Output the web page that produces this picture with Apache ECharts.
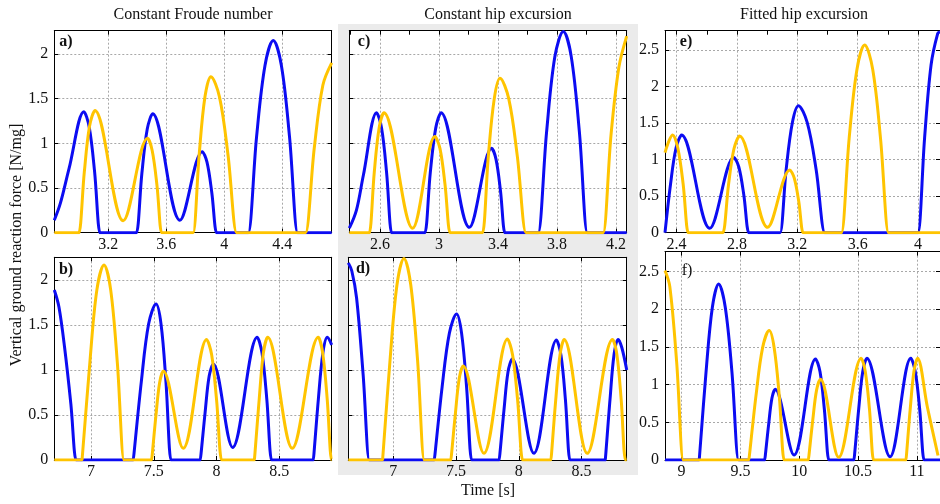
<!DOCTYPE html>
<html>
<head>
<meta charset="utf-8">
<script src="https://cdn.jsdelivr.net/npm/echarts@6/dist/echarts.min.js"></script>
<style>
html,body{margin:0;padding:0;background:#fff;}
#chart{width:940px;height:504px;}
</style>
</head>
<body>
<div id="chart"></div>
<script>
// ---------- data (time [s], vertical GRF [N/mg]) ----------
const aBlue = [[2.828,0.14],[2.87,0.33],[2.93,0.72],[3.032,1.354],[3.069,1.18],[3.106,0.68],[3.143,0],[3.148,0],[3.39,0],[3.395,0],[3.432,0.665],[3.469,1.16],[3.506,1.33],[3.694,0.14],[3.848,0.907],[3.881,0.79],[3.914,0.45],[3.947,0],[3.952,0],[4.161,0],[4.166,0],[4.223,1.075],[4.281,1.87],[4.338,2.15],[4.394,1.87],[4.45,1.075],[4.506,0],[4.511,0],[4.741,0]];
const aYellow = [[2.828,0],[2.993,0],[2.998,0],[3.035,0.68],[3.071,1.19],[3.108,1.366],[3.303,0.134],[3.471,1.056],[3.503,0.92],[3.536,0.53],[3.568,0],[3.573,0],[3.781,0],[3.786,0],[3.827,0.87],[3.867,1.52],[3.908,1.746],[3.967,1.52],[4.026,0.87],[4.085,0],[4.09,0],[4.556,0],[4.561,0],[4.621,0.95],[4.68,1.65],[4.741,1.9]];
const bBlue = [[6.708,1.889],[6.745,1.7],[6.79,1.25],[6.84,0.62],[6.881,0],[6.886,0],[7.337,0],[7.342,0],[7.401,0.87],[7.459,1.51],[7.518,1.733],[7.558,1.51],[7.597,0.87],[7.637,0],[7.642,0],[7.871,0],[7.876,0],[7.909,0.53],[7.941,0.93],[7.974,1.067],[8.128,0.14],[8.324,1.363],[8.362,1.19],[8.4,0.68],[8.438,0],[8.443,0],[8.771,0],[8.776,0],[8.811,0.68],[8.847,1.19],[8.882,1.363],[8.917,1.28]];
const bYellow = [[6.708,0],[6.929,0],[6.934,0],[6.991,1.08],[7.047,1.89],[7.104,2.167],[7.157,1.89],[7.21,1.08],[7.263,0],[7.268,0],[7.483,0],[7.488,0],[7.517,0.49],[7.547,0.86],[7.576,0.989],[7.735,0.13],[7.921,1.34],[7.961,1.17],[8.0,0.67],[8.04,0],[8.045,0],[8.301,0],[8.306,0],[8.34,0.68],[8.373,1.19],[8.407,1.363],[8.603,0.13],[8.81,1.363],[8.845,1.19],[8.881,0.68],[8.916,0],[8.917,0]];
const cBlue = [[2.392,0.05],[2.44,0.25],[2.487,0.64],[2.577,1.343],[2.611,1.17],[2.645,0.67],[2.679,0],[2.684,0],[2.9,0],[2.905,0],[2.941,0.67],[2.978,1.17],[3.014,1.343],[3.206,0.06],[3.357,0.944],[3.387,0.82],[3.417,0.47],[3.447,0],[3.452,0],[3.668,0],[3.673,0],[3.73,1.13],[3.786,1.97],[3.843,2.25],[3.897,1.97],[3.952,1.13],[4.006,0],[4.011,0],[4.273,0]];
const cYellow = [[2.392,0],[2.523,0],[2.528,0],[2.561,0.67],[2.594,1.17],[2.627,1.343],[2.821,0.05],[2.973,1.075],[3.007,0.94],[3.041,0.54],[3.075,0],[3.08,0],[3.291,0],[3.296,0],[3.335,0.86],[3.375,1.5],[3.414,1.728],[3.473,1.5],[3.531,0.86],[3.59,0],[3.595,0],[4.109,0],[4.114,0],[4.167,1.1],[4.22,1.85],[4.273,2.2]];
const dBlue = [[6.642,2.19],[6.67,2.1],[6.708,1.8],[6.76,0.95],[6.809,0],[6.814,0],[7.327,0],[7.332,0],[7.389,0.81],[7.447,1.41],[7.504,1.622],[7.544,1.41],[7.584,0.81],[7.624,0],[7.629,0],[7.844,0],[7.849,0],[7.882,0.56],[7.914,0.98],[7.947,1.122],[8.12,0.074],[8.3,1.333],[8.336,1.16],[8.371,0.67],[8.407,0],[8.412,0],[8.688,0],[8.693,0],[8.726,0.67],[8.758,1.17],[8.791,1.34],[8.82,1.25],[8.859,1.0]];
const dYellow = [[6.642,0],[6.915,0],[6.92,0],[6.975,1.12],[7.03,1.95],[7.085,2.24],[7.139,1.95],[7.193,1.12],[7.247,0],[7.252,0],[7.459,0],[7.464,0],[7.495,0.52],[7.526,0.91],[7.557,1.044],[7.722,0.074],[7.91,1.344],[7.95,1.17],[7.99,0.67],[8.03,0],[8.035,0],[8.256,0],[8.261,0],[8.294,0.67],[8.328,1.17],[8.361,1.34],[8.545,0.074],[8.746,1.34],[8.781,1.17],[8.815,0.67],[8.85,0],[8.859,0]];
const eBlue = [[2.323,0],[2.36,0.67],[2.396,1.16],[2.433,1.338],[2.619,0.06],[2.779,1.03],[2.812,0.9],[2.845,0.52],[2.878,0],[2.883,0],[3.081,0],[3.086,0],[3.126,0.87],[3.167,1.51],[3.207,1.74],[3.265,1.51],[3.324,0.87],[3.382,0],[3.387,0],[3.995,0],[4.0,0],[4.043,1.3],[4.086,2.3],[4.13,2.73],[4.145,2.75]];
const eYellow = [[2.323,1.096],[2.374,1.338],[2.408,1.16],[2.443,0.67],[2.477,0],[2.482,0],[2.702,0],[2.707,0],[2.744,0.66],[2.78,1.15],[2.817,1.324],[3.003,0.073],[3.15,0.858],[3.179,0.75],[3.209,0.43],[3.238,0],[3.243,0],[3.487,0],[3.492,0],[3.543,1.29],[3.595,2.24],[3.646,2.571],[3.699,2.24],[3.751,1.29],[3.804,0],[3.809,0],[4.145,0]];
const fBlue = [[8.859,0],[9.15,0],[9.155,0],[9.208,1.17],[9.262,2.03],[9.315,2.336],[9.371,2.03],[9.428,1.17],[9.484,0],[9.489,0],[9.707,0],[9.712,0],[9.74,0.47],[9.768,0.82],[9.796,0.938],[9.956,0.066],[10.139,1.341],[10.177,1.17],[10.214,0.67],[10.252,0],[10.257,0],[10.466,0],[10.471,0],[10.506,0.68],[10.54,1.17],[10.575,1.35],[10.772,0.044],[10.949,1.35],[10.987,1.17],[11.024,0.68],[11.062,0],[11.067,0],[11.197,0]];
const fYellow = [[8.859,2.513],[8.9,2.3],[8.958,1.3],[9.014,0],[9.019,0],[9.572,0],[9.577,0],[9.633,0.86],[9.689,1.49],[9.745,1.717],[9.787,1.49],[9.83,0.86],[9.872,0],[9.877,0],[10.078,0],[10.083,0],[10.116,0.54],[10.148,0.93],[10.181,1.071],[10.336,0.035],[10.527,1.35],[10.562,1.17],[10.597,0.68],[10.632,0],[10.637,0],[10.908,0],[10.913,0],[10.944,0.68],[10.975,1.17],[11.006,1.35],[11.09,0.7],[11.18,0.06]];

// ---------- tick labels ----------
const aXTicks = [3.2, 3.6, 4, 4.4];
const bXTicks = [7, 7.5, 8, 8.5];
const cXTicks = [2.6, 3, 3.4, 3.8, 4.2];
const cXMinor = [2.4, 2.6, 2.8, 3, 3.2, 3.4, 3.6, 3.8, 4, 4.2];
const dXTicks = [7, 7.5, 8, 8.5];
const eXTicks = [2.4, 2.8, 3.2, 3.6, 4];
const eXMinor = [2.4, 2.6, 2.8, 3, 3.2, 3.4, 3.6, 3.8, 4];
const fXTicks = [9, 9.5, 10, 10.5, 11];
const yTicksLow = [0, 0.5, 1, 1.5, 2];
const yTicksHigh = [0, 0.5, 1, 1.5, 2, 2.5];

const titles = ['Constant Froude number', 'Constant hip excursion', 'Fitted hip excursion'];
const panelLetters = ['a)', 'b)', 'c)', 'd)', 'e)', 'f)'];
const yAxisTitle = 'Vertical ground reaction force [N/mg]';
const xAxisTitle = 'Time [s]';

// ---------- layout ----------
const FONT = '"Liberation Serif", "DejaVu Serif", serif';
const BLUE = '#0c0cf2';
const YELLOW = '#ffc400';

const panels = [
  {grid:{left:54.3, top:30.7, width:277.4, height:202}, xr:[2.828,4.741], ymax:2.26, xl:aXTicks, xt:aXTicks, yl:yTicksLow, showY:true, blue:aBlue, yellow:aYellow},
  {grid:{left:54.3, top:257.3, width:277.4, height:202.7}, xr:[6.708,8.917], ymax:2.252, xl:bXTicks, xt:bXTicks, yl:yTicksLow, showY:true, blue:bBlue, yellow:bYellow},
  {grid:{left:349.3, top:30.7, width:277.4, height:202}, xr:[2.392,4.273], ymax:2.26, xl:cXTicks, xt:cXMinor, yl:yTicksLow, showY:false, blue:cBlue, yellow:cYellow},
  {grid:{left:348.3, top:257.3, width:278.4, height:202.7}, xr:[6.642,8.859], ymax:2.252, xl:dXTicks, xt:dXTicks, yl:yTicksLow, showY:false, blue:dBlue, yellow:dYellow},
  {grid:{left:665, top:30.7, width:277, height:202}, xr:[2.323,4.145], ymax:2.767, xl:eXTicks, xt:eXMinor, yl:yTicksHigh, showY:true, blue:eBlue, yellow:eYellow},
  {grid:{left:665, top:251.7, width:277, height:208.3}, xr:[8.859,11.197], ymax:2.763, xl:fXTicks, xt:fXTicks, yl:yTicksHigh, showY:true, blue:fBlue, yellow:fYellow}
];

const grids = [], xAxes = [], yAxes = [], series = [];
const gridLine = {show:true, lineStyle:{color:'#a8a8a8', width:1, type:[2,2]}};
const axisLine = {show:true, onZero:false, lineStyle:{color:'#000', width:1}};
const labelStyle = {color:'#111', fontFamily:FONT, fontSize:16};

panels.forEach((p, i) => {
  grids.push(Object.assign({containLabel:false, show:true, backgroundColor:'#fff', borderWidth:0}, p.grid));
  xAxes.push({type:'value', gridIndex:i, position:'bottom', min:p.xr[0], max:p.xr[1],
    axisLine:axisLine, axisTick:{show:true, inside:true, length:4, customValues:p.xl, lineStyle:{color:'#000'}},
    axisLabel:Object.assign({show:true, margin:4, customValues:p.xl}, labelStyle),
    splitLine:gridLine});
  xAxes.push({type:'value', gridIndex:i, position:'top', min:p.xr[0], max:p.xr[1],
    axisLine:axisLine, axisTick:{show:true, inside:true, length:4, customValues:p.xt, lineStyle:{color:'#000'}},
    axisLabel:{show:false, customValues:p.xt}, splitLine:{show:false}});
  yAxes.push({type:'value', gridIndex:i, position:'left', min:0, max:p.ymax,
    axisLine:axisLine, axisTick:{show:true, inside:true, length:4, customValues:p.yl, lineStyle:{color:'#000'}},
    axisLabel:Object.assign({show:p.showY, margin:6, customValues:p.yl}, labelStyle),
    splitLine:gridLine});
  yAxes.push({type:'value', gridIndex:i, position:'right', min:0, max:p.ymax,
    axisLine:axisLine, axisTick:{show:true, inside:true, length:4, customValues:p.yl, lineStyle:{color:'#000'}},
    axisLabel:{show:false, customValues:p.yl}, splitLine:{show:false}});
  series.push({type:'line', xAxisIndex:2*i, yAxisIndex:2*i, data:p.blue, showSymbol:false, smooth:0.35,
    lineStyle:{color:BLUE, width:3}, itemStyle:{color:BLUE}, z:3});
  series.push({type:'line', xAxisIndex:2*i, yAxisIndex:2*i, data:p.yellow, showSymbol:false, smooth:0.35,
    lineStyle:{color:YELLOW, width:3}, itemStyle:{color:YELLOW}, z:4});
});

function txt(text, x, y, opts) {
  return Object.assign({type:'text', x:x, y:y, silent:true,
    style:Object.assign({text:text, fill:'#111', font:'16px ' + FONT,
      textAlign:'center', align:'center', textVerticalAlign:'middle', verticalAlign:'middle'}, opts && opts.style)},
    opts && opts.el);
}

const letterPos = [[66,42],[66,270],[364,42],[363,269],[686,42],[687,271]];
const graphics = [
  {type:'rect', shape:{x:338, y:24, width:300, height:451}, style:{fill:'#ebebeb'}, z:-10, silent:true},
  txt(titles[0], 193, 15),
  txt(titles[1], 498, 15),
  txt(titles[2], 804, 15),
  txt(yAxisTitle, 17, 245, {el:{rotation:Math.PI/2}}),
  txt(xAxisTitle, 488, 491)
];
panelLetters.forEach((l, i) => {
  graphics.push(txt(l, letterPos[i][0], letterPos[i][1],
    {style:{font:(i === 5 ? '' : 'bold ') + '16px ' + FONT}, el:{z:10}}));
});

const chart = echarts.init(document.getElementById('chart'), null, {renderer:'canvas'});
chart.setOption({
  animation:false,
  backgroundColor:'#fff',
  grid:grids, xAxis:xAxes, yAxis:yAxes, series:series,
  graphic:{elements:graphics}
});
</script>
</body>
</html>
